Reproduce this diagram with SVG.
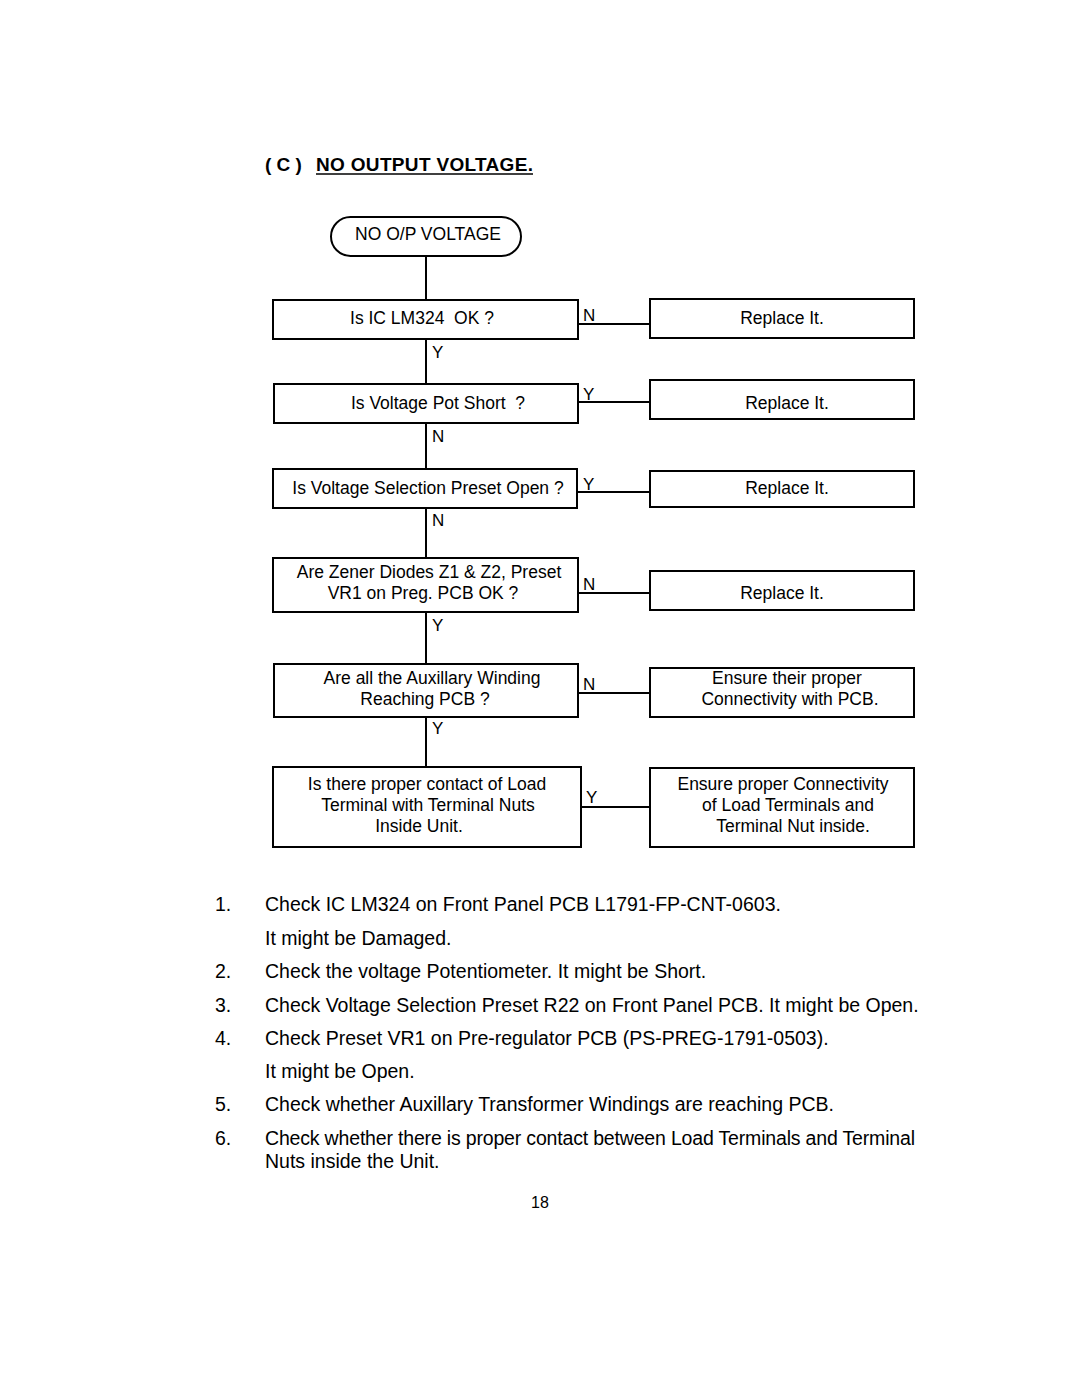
<svg xmlns="http://www.w3.org/2000/svg" width="1080" height="1397" viewBox="0 0 1080 1397">
<style>
text{font-family:"Liberation Sans",Arial,sans-serif;fill:#000;white-space:pre}
.box{fill:#fff;stroke:#000;stroke-width:2}
.bt{font-size:17.5px;text-anchor:middle}
.lbl{font-size:17px}
.ln{stroke:#000;stroke-width:2;fill:none}
.li{font-size:19.5px}
</style>
<rect width="1080" height="1397" fill="#fff"/>
<text x="265" y="171" style="font-size:19px;font-weight:bold">( C )</text>
<text x="316" y="171" style="font-size:19px;font-weight:bold" textLength="217">NO OUTPUT VOLTAGE.</text>
<line x1="316" y1="174" x2="533" y2="174" stroke="#000" stroke-width="1.5"/>

<g id="connectors">
<path class="ln" d="M426 256V300M426 339V384M426 423V469M426 508V558M426 612V664M426 717V767"/>
<path class="ln" d="M578 324H650M578 402H650M577 492H650M578 593H650M578 693H650M581 807H650"/>
<text class="lbl" x="583" y="321">N</text>
<text class="lbl" x="432" y="358">Y</text>
<text class="lbl" x="583" y="400">Y</text>
<text class="lbl" x="432" y="442">N</text>
<text class="lbl" x="583" y="490">Y</text>
<text class="lbl" x="432" y="526">N</text>
<text class="lbl" x="583" y="590">N</text>
<text class="lbl" x="432" y="631">Y</text>
<text class="lbl" x="583" y="690">N</text>
<text class="lbl" x="432" y="734">Y</text>
<text class="lbl" x="586" y="803">Y</text>
</g>

<g id="start">
<rect class="box" x="331" y="217" width="190" height="39" rx="19.5"/>
<text class="bt" x="428" y="240">NO O/P VOLTAGE</text>
</g>
<g id="q1">
<rect class="box" x="273" y="300" width="305" height="39"/>
<text class="bt" x="422" y="324">Is IC LM324  OK ?</text>
</g>
<g id="r1">
<rect class="box" x="650" y="299" width="264" height="39"/>
<text class="bt" x="782" y="324">Replace It.</text>
</g>
<g id="q2">
<rect class="box" x="274" y="384" width="304" height="39"/>
<text class="bt" x="438" y="409">Is Voltage Pot Short  ?</text>
</g>
<g id="r2">
<rect class="box" x="650" y="380" width="264" height="39"/>
<text class="bt" x="787" y="409">Replace It.</text>
</g>
<g id="q3">
<rect class="box" x="273" y="469" width="304" height="39"/>
<text class="bt" x="428" y="494">Is Voltage Selection Preset Open ?</text>
</g>
<g id="r3">
<rect class="box" x="650" y="471" width="264" height="36"/>
<text class="bt" x="787" y="494">Replace It.</text>
</g>
<g id="q4">
<rect class="box" x="273" y="558" width="305" height="54"/>
<text class="bt" x="429" y="578">Are Zener Diodes Z1 &amp; Z2, Preset</text>
<text class="bt" x="423" y="599">VR1 on Preg. PCB OK ?</text>
</g>
<g id="r4">
<rect class="box" x="650" y="571" width="264" height="39"/>
<text class="bt" x="782" y="599">Replace It.</text>
</g>
<g id="q5">
<rect class="box" x="274" y="664" width="304" height="53"/>
<text class="bt" x="432" y="684">Are all the Auxillary Winding</text>
<text class="bt" x="425" y="705">Reaching PCB ?</text>
</g>
<g id="r5">
<rect class="box" x="650" y="668" width="264" height="49"/>
<text class="bt" x="787" y="684">Ensure their proper</text>
<text class="bt" x="790" y="705">Connectivity with PCB.</text>
</g>
<g id="q6">
<rect class="box" x="273" y="767" width="308" height="80"/>
<text class="bt" x="427" y="790">Is there proper contact of Load</text>
<text class="bt" x="428" y="811">Terminal with Terminal Nuts</text>
<text class="bt" x="419" y="832">Inside Unit.</text>
</g>
<g id="r6">
<rect class="box" x="650" y="768" width="264" height="79"/>
<text class="bt" x="783" y="790">Ensure proper Connectivity</text>
<text class="bt" x="788" y="811">of Load Terminals and</text>
<text class="bt" x="793" y="832">Terminal Nut inside.</text>
</g>

<g id="notes">
<text class="li" x="215" y="911">1.</text>
<text class="li" x="265" y="911">Check IC LM324 on Front Panel PCB L1791-FP-CNT-0603.</text>
<text class="li" x="265" y="945">It might be Damaged.</text>
<text class="li" x="215" y="978">2.</text>
<text class="li" x="265" y="978">Check the voltage Potentiometer. It might be Short.</text>
<text class="li" x="215" y="1012">3.</text>
<text class="li" x="265" y="1012">Check Voltage Selection Preset R22 on Front Panel PCB. It might be Open.</text>
<text class="li" x="215" y="1045">4.</text>
<text class="li" x="265" y="1045">Check Preset VR1 on Pre-regulator PCB (PS-PREG-1791-0503).</text>
<text class="li" x="265" y="1078">It might be Open.</text>
<text class="li" x="215" y="1111">5.</text>
<text class="li" x="265" y="1111">Check whether Auxillary Transformer Windings are reaching PCB.</text>
<text class="li" x="215" y="1145">6.</text>
<text class="li" x="265" y="1145" textLength="650" lengthAdjust="spacing">Check whether there is proper contact between Load Terminals and Terminal</text>
<text class="li" x="265" y="1168">Nuts inside the Unit.</text>
<text x="540" y="1208" style="font-size:16px;text-anchor:middle">18</text>
</g>
</svg>
